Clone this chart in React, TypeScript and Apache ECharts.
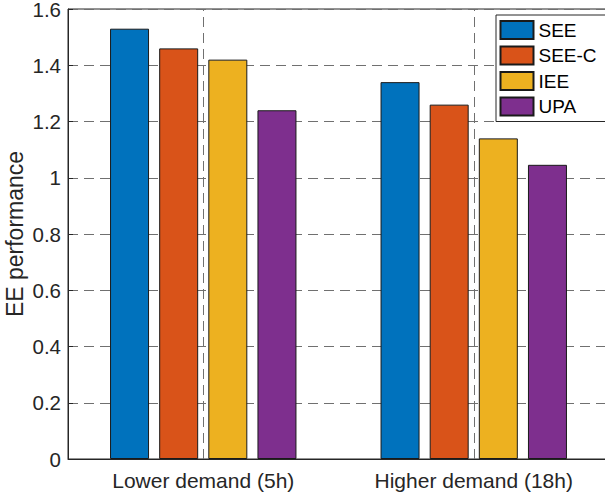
import React, { useEffect, useRef } from "react";
import * as echarts from "echarts";

const categories = ["Lower demand (5h)", "Higher demand (18h)"];
const seriesNames = ["SEE", "SEE-C", "IEE", "UPA"];
const seeValues = [1.53, 1.34];
const seeCValues = [1.46, 1.26];
const ieeValues = [1.42, 1.14];
const upaValues = [1.24, 1.046];
const colors = ["#0072BD", "#D95319", "#EDB120", "#7E2F8E"];
const yTicks = { min: 0, max: 1.6, interval: 0.2 };

const FONT = "'Liberation Sans', Arial, Helvetica, sans-serif";
const TXT = "#262626";

export default function App() {
  const ref = useRef<HTMLDivElement>(null);
  useEffect(() => {
    if (!ref.current) return;
    const chart = echarts.init(ref.current, null, { renderer: "svg" });
    const allValues = [seeValues, seeCValues, ieeValues, upaValues];
    const series: any[] = seriesNames.map((name, i) => ({
      name,
      type: "bar",
      data: allValues[i],
      barWidth: 39,
      barGap: "26%",
      itemStyle: { color: colors[i], borderColor: "#1a1a1a", borderWidth: 1 },
      emphasis: { disabled: true },
    }));
    series.push({
      name: "_grid",
      type: "line",
      data: [],
      silent: true,
      markLine: {
        silent: true,
        symbol: "none",
        label: { show: false },
        lineStyle: { color: "#707070", type: [10, 6], width: 1 },
        data: categories.map((c) => ({ xAxis: c })),
      },
    });
    chart.setOption({
      animation: false,
      textStyle: { fontFamily: FONT, color: TXT },
      grid: {
        left: 68,
        right: -4,
        top: 9,
        bottom: 41,
        outerBoundsMode: "none",
        containLabel: false,
        show: true,
        borderColor: TXT,
        borderWidth: 1,
        backgroundColor: "transparent",
      },
      legend: {
        orient: "vertical",
        left: 496,
        top: 15,
        data: seriesNames,
        itemWidth: 33,
        itemHeight: 18,
        itemGap: 5.5,
        padding: [5, 10, 5, 3.5],
        backgroundColor: "#fff",
        borderColor: TXT,
        borderWidth: 1,
        borderRadius: 0,
        icon: "rect",
        textStyle: { fontSize: 19, color: "#000", fontFamily: FONT, lineHeight: 18 },
      },
      xAxis: {
        type: "category",
        data: categories,
        axisLine: { show: true, lineStyle: { color: TXT, width: 1 } },
        axisTick: { show: true, inside: true, alignWithLabel: true, length: 5, lineStyle: { color: TXT } },
        axisLabel: { fontSize: 21, color: TXT, margin: 11, fontFamily: FONT },
        splitLine: { show: false },
      },
      yAxis: {
        type: "value",
        min: yTicks.min,
        max: yTicks.max,
        interval: yTicks.interval,
        name: "EE performance",
        nameLocation: "middle",
        nameGap: 41,
        nameMoveOverlap: false,
        nameTextStyle: { fontSize: 23, lineHeight: 24, color: TXT, fontFamily: FONT },
        axisLine: { show: true, lineStyle: { color: TXT, width: 1 } },
        axisTick: { show: true, inside: true, length: 5, lineStyle: { color: TXT } },
        axisLabel: { fontSize: 20.5, lineHeight: 16, padding: [6, 0, 0, 0], color: TXT, margin: 7, fontFamily: FONT },
        splitLine: { show: true, lineStyle: { color: "#707070", type: [10, 6], width: 1 } },
      },
      series,
    });
    return () => chart.dispose();
  }, []);
  return (
    <div
      ref={ref}
      style={{ position: "absolute", left: 0, top: 0, width: 605, height: 500, background: "#fff" }}
    />
  );
}
